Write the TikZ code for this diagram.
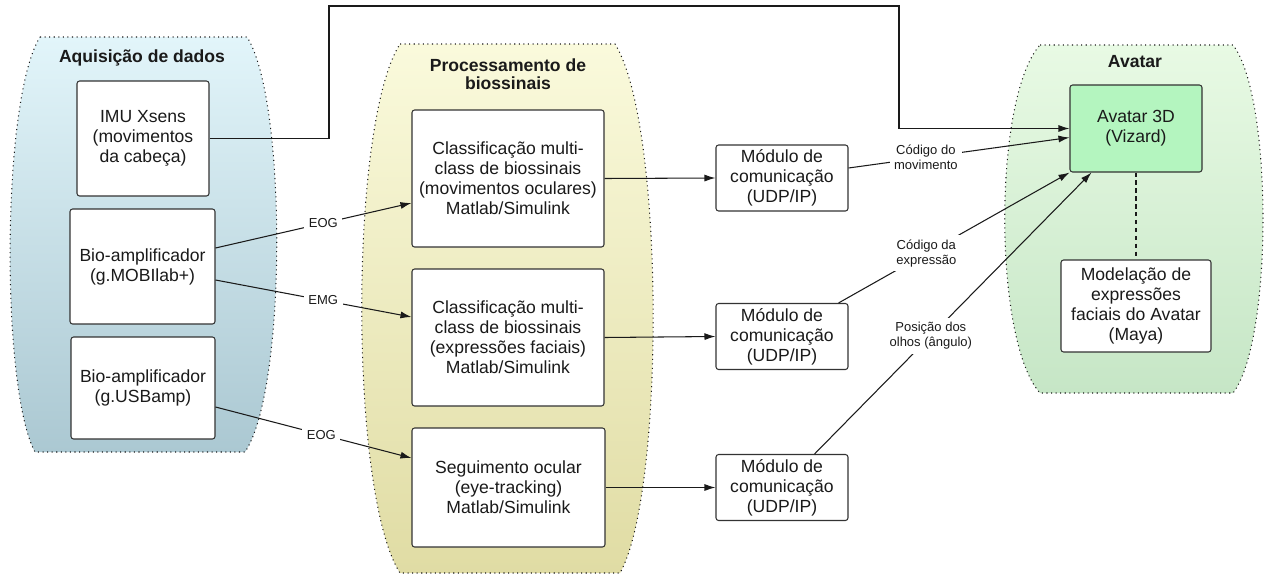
\documentclass[tikz,border=0pt]{standalone}
\usepackage{fontspec}
\setmainfont{Liberation Sans}
\usetikzlibrary{positioning, arrows.meta}
\definecolor{ink}{HTML}{1A1A1A}
\definecolor{frame}{HTML}{333333}
\definecolor{acqtop}{HTML}{E2F5FA}
\definecolor{acqbot}{HTML}{ABC8D2}
\definecolor{proctop}{HTML}{FAFADC}
\definecolor{procbot}{HTML}{E0DCA4}
\definecolor{avtop}{HTML}{E8FAE4}
\definecolor{avbot}{HTML}{C6E6C6}
\definecolor{avfill}{HTML}{B4F5BF}
\tikzset{
  every node/.style = {text=ink},
  dgbox/.style    = {draw=frame, line width=0.6pt, fill=white, align=center, inner sep=2pt,
                     rounded corners=1.5pt, font=\fontsize{10}{11.4}\selectfont},
  dggroup/.style  = {draw=ink, dotted, line width=0.6pt},
  dgtitle/.style  = {font=\fontsize{10}{10.4}\selectfont\bfseries, align=center},
  dggo/.style     = {-{Latex[length=2.2mm,width=1.4mm]}, draw=ink, line width=0.6pt},
  dglink/.style   = {draw=ink, line width=0.6pt, dash pattern=on 2.5pt off 2pt},
  dglab/.style    = {font=\fontsize{7.4}{8.6}\selectfont, fill=white, inner sep=2.5pt, align=center},
}
\begin{document}
\begin{tikzpicture}
\useasboundingbox (0,0) rectangle (25.28,-11.54);

% groups
\path[dggroup, top color=acqtop, bottom color=acqbot]
  (0.80,-0.74) -- (4.94,-0.74)
  .. controls (5.74,-1.99) and (5.74,-7.80) .. (4.90,-9.04)
  -- (0.70,-9.04)
  .. controls (0.02,-7.80) and (0.02,-1.99) .. cycle;
\path[dggroup, top color=proctop, bottom color=procbot]
  (8.00,-0.88) -- (12.30,-0.88)
  .. controls (13.30,-2.47) and (13.30,-9.87) .. (12.40,-11.46)
  -- (8.00,-11.46)
  .. controls (6.98,-9.87) and (6.98,-2.47) .. cycle;
\path[dggroup, top color=avtop, bottom color=avbot]
  (20.80,-0.90) -- (24.66,-0.90)
  .. controls (25.46,-1.94) and (25.46,-6.82) .. (24.66,-7.86)
  -- (20.80,-7.86)
  .. controls (19.86,-6.82) and (19.86,-1.94) .. cycle;

% aquisicao
\node[dgtitle] (acqhead) at (2.84,-1.16) {Aquisição de dados};
\node[dgbox, minimum width=2.64cm, minimum height=2.30cm] (imu) at (2.86,-2.77)
  {IMU Xsens\\(movimentos\\da cabeça)};
\node[dgbox, minimum width=2.90cm, minimum height=2.30cm] (bioa) at (2.85,-5.33)
  {Bio-amplificador\\(g.MOBIlab+)};
\node[dgbox, minimum width=2.88cm, minimum height=2.04cm] (biob) at (2.86,-7.76)
  {Bio-amplificador\\(g.USBamp)};

% processamento
\node[dgtitle] (prochead) at (10.16,-1.48) {Processamento de\\biossinais};
\node[dgbox, minimum width=3.84cm, minimum height=2.74cm] (clsa) at (10.16,-3.57)
  {Classificação multi-\\class de biossinais\\(movimentos oculares)\\Matlab/Simulink};
\node[dgbox, minimum width=3.84cm, minimum height=2.74cm] (clsb) at (10.16,-6.75)
  {Classificação multi-\\class de biossinais\\(expressões faciais)\\Matlab/Simulink};
\node[dgbox, minimum width=3.86cm, minimum height=2.38cm] (track) at (10.17,-9.75)
  {Seguimento ocular\\(eye-tracking)\\Matlab/Simulink};

% comunicacao
\node[dgbox, minimum width=2.64cm, minimum height=1.32cm] (coma) at (15.64,-3.56)
  {Módulo de\\comunicação\\(UDP/IP)};
\node[dgbox, minimum width=2.64cm, minimum height=1.32cm] (comb) at (15.64,-6.73)
  {Módulo de\\comunicação\\(UDP/IP)};
\node[dgbox, minimum width=2.64cm, minimum height=1.32cm] (comc) at (15.64,-9.75)
  {Módulo de\\comunicação\\(UDP/IP)};

% avatar
\node[dgtitle] (avhead) at (22.70,-1.24) {Avatar};
\node[dgbox, fill=avfill, minimum width=2.64cm, minimum height=1.74cm] (avatar) at (22.72,-2.57)
  {Avatar 3D\\(Vizard)};
\node[dgbox, minimum width=3.00cm, minimum height=1.84cm] (maya) at (22.72,-6.12)
  {Modelação de\\expressões\\faciais do Avatar\\(Maya)};

% connectors
\coordinate (riseA) at (6.58,-0.12);
\coordinate (riseB) at (17.98,-0.12);
\draw[dggo] (imu.east) -| (riseA) -- (riseB) |- (avatar.west);

\draw[dggo] ([yshift=3.7mm]bioa.east) -- node[dglab, pos=0.55] {EOG} ([yshift=-4.9mm]clsa.west);
\draw[dggo] ([yshift=-2.7mm]bioa.east) -- node[dglab, pos=0.55] {EMG} ([yshift=4.1mm]clsb.west);
\draw[dggo] ([yshift=-3.8mm]biob.east) -- node[dglab, pos=0.54] {EOG} ([yshift=5.9mm]track.west);

\draw[dggo] (clsa.east) -- (coma.west);
\draw[dggo] (clsb.east) -- (comb.west);
\draw[dggo] (track.east) -- (comc.west);

\draw[dggo] ([yshift=2mm]coma.east) -- node[dglab, pos=0.35] {Código do\\movimento}
  ([yshift=-1.8mm]avatar.west);
\draw[dggo] ([xshift=-2mm]comb.north east) -- node[dglab, pos=0.38] {Código da\\expressão}
  (avatar.south west);
\draw[dggo] ([xshift=-6.8mm]comc.north east) -- node[dglab, pos=0.42] {Posição dos\\olhos (ângulo)}
  ([xshift=4.4mm]avatar.south west);

\draw[dglink] (avatar) -- (maya);
\end{tikzpicture}
\end{document}
